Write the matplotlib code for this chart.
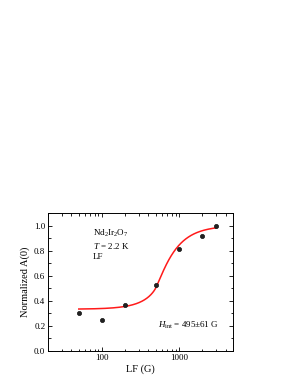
import numpy as np
import matplotlib
matplotlib.use("Agg")
import matplotlib.pyplot as plt
from matplotlib.ticker import LogLocator, MultipleLocator, NullFormatter

plt.rcParams['font.family'] = ['Liberation Serif', 'DejaVu Serif']
plt.rcParams['mathtext.fontset'] = 'custom'
plt.rcParams['mathtext.rm'] = 'Liberation Serif'
plt.rcParams['mathtext.it'] = 'Liberation Serif:italic'

# data
lf_field = [50, 100, 200, 500, 1000, 2000, 3000]
norm_a0 = [0.30, 0.245, 0.37, 0.53, 0.81, 0.92, 1.0]
h_int = 495.0  # fitted internal field (G), as labelled
fit_range = (50, 3000)

def decoupling(b, h):
    x = b / h
    return 0.75 - 1.0 / (4 * x**2) + (x**2 - 1)**2 / (8 * x**3) * np.log(np.abs((x + 1) / (x - 1)))

fig = plt.figure(figsize=(2.95, 3.82), dpi=100)
ax = fig.add_axes([0.163, 0.0812, 0.627, 0.361])

bf = np.logspace(np.log10(fit_range[0]), np.log10(fit_range[1]), 400)
bf = bf[np.abs(bf - h_int) > 1e-6]
ax.plot(bf, decoupling(bf, h_int), color='#ff1a1a', lw=1.1, zorder=2)
ax.plot(lf_field, norm_a0, 'o', color='#222222', ms=3.0, mec='#111111', mew=0.5, zorder=3)

ax.set_xscale('log')
ax.set_xlim(20, 5000)
ax.set_ylim(0, 1.1)
ax.set_xticks([100, 1000])
ax.set_xticklabels(['100', '1000'])
ax.xaxis.set_minor_locator(LogLocator(base=10, subs=np.arange(2, 10)))
ax.xaxis.set_minor_formatter(NullFormatter())
ax.yaxis.set_major_locator(MultipleLocator(0.2))
ax.yaxis.set_minor_locator(MultipleLocator(0.1))
ax.yaxis.set_major_formatter(matplotlib.ticker.FormatStrFormatter('%.1f'))
ax.tick_params(which='both', direction='in', top=True, right=True, labelsize=6.5, width=0.6, pad=2)
ax.tick_params(which='major', length=3)
ax.tick_params(which='minor', length=1.8)
for s in ax.spines.values():
    s.set_linewidth(0.7)

ax.set_xlabel('LF (G)', fontsize=7.5, labelpad=2)
ax.set_ylabel('Normalized A(0)', fontsize=7.5, labelpad=3)

ax.text(0.243, 0.855, r'Nd$_2$Ir$_2$O$_7$', transform=ax.transAxes, fontsize=6.5, va='center')
ax.text(0.243, 0.763, r'$T$ = 2.2 K', transform=ax.transAxes, fontsize=6.5, va='center')
ax.text(0.243, 0.68, 'LF', transform=ax.transAxes, fontsize=6.5, va='center')
ax.text(0.595, 0.188, r'$H_{\rm int}$ = 495$\pm$61 G', transform=ax.transAxes, fontsize=6.5, va='center')

fig.savefig('out.png', dpi=100)
